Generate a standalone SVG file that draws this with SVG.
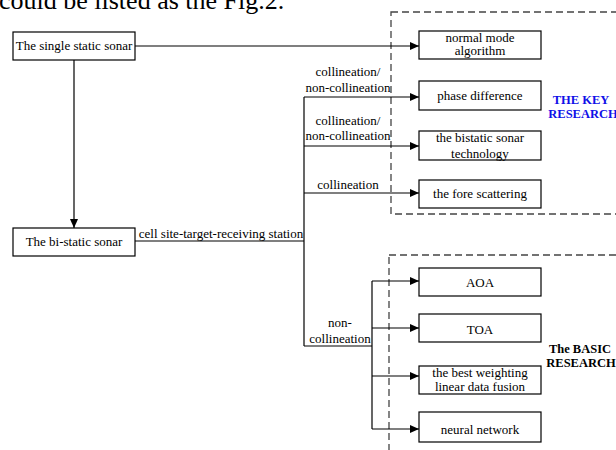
<svg xmlns="http://www.w3.org/2000/svg" width="616" height="450" viewBox="0 0 616 450">
<style>
text{font-family:"Liberation Serif","Times New Roman",serif;fill:#000}
.t{font-size:13px;text-anchor:middle}
.box{fill:#fff;stroke:#000;stroke-width:1.2}
.ln{fill:none;stroke:#000;stroke-width:1.2}
.dash{fill:none;stroke:#444;stroke-width:1.3;stroke-dasharray:7 4}
.key{font-size:12.5px;font-weight:bold;fill:#1010e8;text-anchor:middle}
.basic{font-size:12.5px;font-weight:bold;text-anchor:middle}
</style>
<defs>
<marker id="ah" markerWidth="9" markerHeight="8" refX="9" refY="4" orient="auto" markerUnits="userSpaceOnUse">
<path d="M0,0 L9,4 L0,8 Z" fill="#000"/>
</marker>
</defs>
<rect width="616" height="450" fill="#fff"/>
<text x="-1" y="9" font-size="26">could be listed as the Fig.2.</text>

<g id="regions">
<rect class="dash" x="391" y="12" width="240" height="202"/>
<rect class="dash" x="389" y="255" width="240" height="210"/>
<text class="key" x="581" y="104">THE KEY</text>
<text class="key" x="583" y="118">RESEARCH</text>
<text class="basic" x="580" y="353">The BASIC</text>
<text class="basic" x="581" y="367">RESEARCH</text>
</g>

<g id="connectors">
<line class="ln" x1="135" y1="46" x2="419" y2="46" marker-end="url(#ah)"/>
<line class="ln" x1="74" y1="60" x2="74" y2="228" marker-end="url(#ah)"/>
<polyline class="ln" points="135,241 304,241"/>
<line class="ln" x1="304" y1="97" x2="304" y2="346"/>
<line class="ln" x1="304" y1="97" x2="419" y2="97" marker-end="url(#ah)"/>
<line class="ln" x1="304" y1="146" x2="419" y2="146" marker-end="url(#ah)"/>
<line class="ln" x1="304" y1="193" x2="419" y2="193" marker-end="url(#ah)"/>
<line class="ln" x1="304" y1="346" x2="372" y2="346"/>
<line class="ln" x1="372" y1="281" x2="372" y2="429"/>
<line class="ln" x1="372" y1="281" x2="419" y2="281" marker-end="url(#ah)"/>
<line class="ln" x1="372" y1="328" x2="419" y2="328" marker-end="url(#ah)"/>
<line class="ln" x1="372" y1="376" x2="419" y2="376" marker-end="url(#ah)"/>
<line class="ln" x1="372" y1="429" x2="419" y2="429" marker-end="url(#ah)"/>
<text class="t" x="221" y="238">cell site-target-receiving station</text>
<text class="t" x="348" y="76">collineation/</text>
<text class="t" x="348" y="92">non-collineation</text>
<text class="t" x="348" y="125">collineation/</text>
<text class="t" x="348" y="140">non-collineation</text>
<text class="t" x="348" y="189">collineation</text>
<text class="t" x="340" y="327">non-</text>
<text class="t" x="340" y="343">collineation</text>
</g>

<g id="single"><rect class="box" x="13" y="32" width="122" height="28"/><text class="t" x="74" y="50">The single static sonar</text></g>
<g id="bistatic"><rect class="box" x="13" y="228" width="122" height="28"/><text class="t" x="74" y="246">The bi-static sonar</text></g>
<g id="normal"><rect class="box" x="419" y="31" width="122" height="28"/><text class="t" x="480" y="42">normal mode</text><text class="t" x="480" y="55">algorithm</text></g>
<g id="phase"><rect class="box" x="419" y="81" width="122" height="29"/><text class="t" x="480" y="100">phase difference</text></g>
<g id="bistech"><rect class="box" x="419" y="131" width="122" height="29"/><text class="t" x="480" y="142">the bistatic sonar</text><text class="t" x="480" y="158">technology</text></g>
<g id="fore"><rect class="box" x="419" y="180" width="122" height="28"/><text class="t" x="480" y="198">the fore scattering</text></g>
<g id="aoa"><rect class="box" x="419" y="268" width="122" height="28"/><text class="t" x="480" y="287">AOA</text></g>
<g id="toa"><rect class="box" x="419" y="314" width="122" height="28"/><text class="t" x="480" y="334">TOA</text></g>
<g id="fusion"><rect class="box" x="419" y="366" width="122" height="28"/><text class="t" x="480" y="377">the best weighting</text><text class="t" x="480" y="391">linear data fusion</text></g>
<g id="neural"><rect class="box" x="419" y="412" width="122" height="30"/><text class="t" x="480" y="434">neural network</text></g>
</svg>
